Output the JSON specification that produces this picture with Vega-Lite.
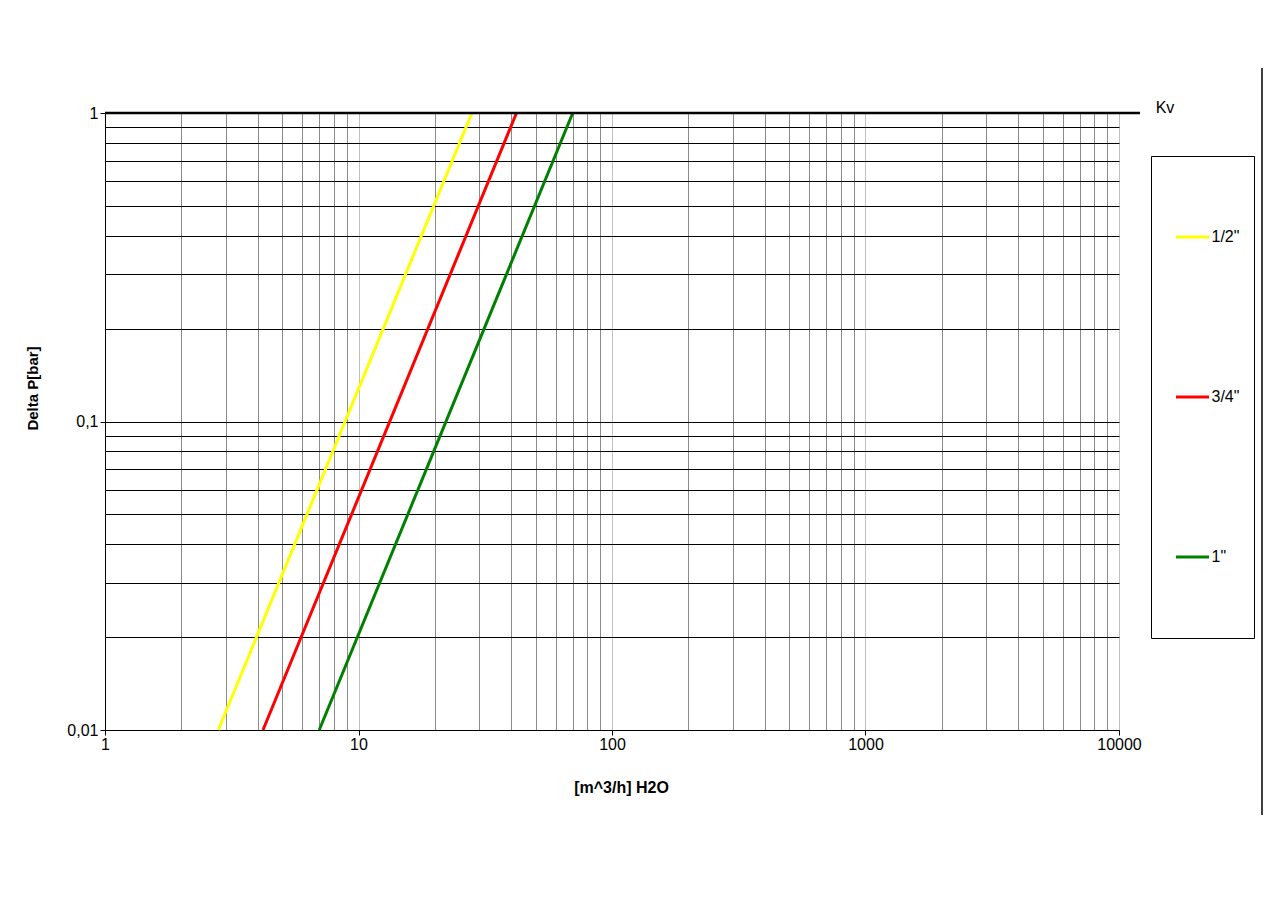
{
  "$schema": "https://vega.github.io/schema/vega-lite/v6.json",
  "width": 1014,
  "height": 617,
  "autosize": {"type": "none"},
  "padding": {"left": 105, "top": 113, "right": 168, "bottom": 174},
  "background": "white",
  "config": {"view": {"stroke": null}, "font": "Liberation Sans"},
  "datasets": {
    "curves": [
      {"size": "1/2\"", "q": 2.8, "dp": 0.01},
      {"size": "1/2\"", "q": 28, "dp": 1},
      {"size": "3/4\"", "q": 4.2, "dp": 0.01},
      {"size": "3/4\"", "q": 42, "dp": 1},
      {"size": "1\"", "q": 7.0, "dp": 0.01},
      {"size": "1\"", "q": 70, "dp": 1}
    ],
    "kv": [{"q": 1, "q2": 12100, "dp": 1, "tq": 15190, "label": "Kv"}],
    "border": [{"q": 36650, "dp": 1.4, "dp2": 0.0053}]
  },
  "layer": [
    {
      "data": {"name": "curves"},
      "mark": {"type": "line", "strokeWidth": 3, "clip": false},
      "encoding": {
        "x": {
          "field": "q", "type": "quantitative",
          "scale": {"type": "log", "domain": [1, 10000], "nice": false},
          "axis": {
            "title": "[m^3/h] H2O",
            "titleFont": "Liberation Sans", "titleFontSize": 16, "titleFontWeight": "bold", "titleColor": "black",
            "titleX": 516, "titleY": 57, "titleBaseline": "middle", "titleAnchor": "start", "titleAlign": "center",
            "values": [1,2,3,4,5,6,7,8,9,10,20,30,40,50,60,70,80,90,100,200,300,400,500,600,700,800,900,1000,2000,3000,4000,5000,6000,7000,8000,9000,10000],
            "labelExpr": "indexof([1,10,100,1000,10000], datum.value) >= 0 ? '' + datum.value : ''",
            "labelFont": "Liberation Sans", "labelFontSize": 16, "labelColor": "black", "labelPadding": 1,
            "labelOverlap": false, "labelFlush": false,
            "domainColor": "black", "domainWidth": 1,
            "tickColor": "black", "tickSize": 5, "tickWidth": 1,
            "tickOpacity": {"condition": {"test": "indexof([1,10,100,1000,10000], datum.value) >= 0", "value": 1}, "value": 0},
            "grid": true, "gridWidth": 1,
            "gridColor": {"condition": {"test": "indexof([1,10,100,1000,10000], datum.value) >= 0", "value": "#c0c0c0"}, "value": "#8c8c8c"}
          }
        },
        "y": {
          "field": "dp", "type": "quantitative",
          "scale": {"type": "log", "domain": [0.01, 1], "nice": false},
          "axis": {
            "title": "Delta P[bar]",
            "titleFont": "Liberation Sans", "titleFontSize": 15, "titleFontWeight": "bold", "titleColor": "black",
            "titleX": -73, "titleY": 275, "titleBaseline": "middle", "titleAlign": "center", "titleAngle": 270,
            "values": [0.01,0.02,0.03,0.04,0.05,0.06,0.07,0.08,0.09,0.1,0.2,0.3,0.4,0.5,0.6,0.7,0.8,0.9,1],
            "labelExpr": "datum.value == 1 ? '1' : datum.value == 0.1 ? '0,1' : datum.value == 0.01 ? '0,01' : ''",
            "labelFont": "Liberation Sans", "labelFontSize": 16, "labelColor": "black", "labelPadding": 2,
            "labelOverlap": false, "labelFlush": false,
            "domainColor": "black", "domainWidth": 1,
            "tickColor": "black", "tickSize": 5, "tickWidth": 1,
            "tickOpacity": {"condition": {"test": "datum.value == 1 || datum.value == 0.1 || datum.value == 0.01", "value": 1}, "value": 0},
            "grid": true, "gridColor": "black", "gridWidth": 1
          }
        },
        "color": {
          "field": "size", "type": "nominal",
          "scale": {"domain": ["1/2\"", "3/4\"", "1\""], "range": ["#ffff00", "#ff0000", "#008000"]},
          "legend": {
            "title": null,
            "orient": "none", "legendX": 1046, "legendY": 43,
            "padding": 14, "clipHeight": 134, "rowPadding": 26,
            "symbolType": "stroke", "symbolSize": 1089, "symbolStrokeWidth": 3,
            "symbolOffset": 9.5, "labelOffset": 1,
            "labelFont": "Liberation Sans", "labelFontSize": 16, "labelColor": "black",
            "strokeColor": "black", "fillColor": "white", "cornerRadius": 0
          }
        }
      }
    },
    {
      "data": {"name": "kv"},
      "mark": {"type": "rule", "color": "black", "strokeWidth": 2.5, "clip": false},
      "encoding": {
        "x": {"field": "q", "type": "quantitative", "scale": {"type": "log", "domain": [1, 10000], "nice": false}},
        "x2": {"field": "q2"},
        "y": {"field": "dp", "type": "quantitative", "scale": {"type": "log", "domain": [0.01, 1], "nice": false}}
      }
    },
    {
      "data": {"name": "kv"},
      "mark": {"type": "text", "color": "black", "font": "Liberation Sans", "fontSize": 16, "align": "center", "baseline": "middle", "dy": -5, "clip": false},
      "encoding": {
        "x": {"field": "tq", "type": "quantitative", "scale": {"type": "log", "domain": [1, 10000], "nice": false}},
        "y": {"field": "dp", "type": "quantitative", "scale": {"type": "log", "domain": [0.01, 1], "nice": false}},
        "text": {"field": "label"}
      }
    },
    {
      "data": {"name": "border"},
      "mark": {"type": "rule", "color": "black", "strokeWidth": 1.5, "clip": false},
      "encoding": {
        "x": {"field": "q", "type": "quantitative", "scale": {"type": "log", "domain": [1, 10000], "nice": false}},
        "y": {"field": "dp", "type": "quantitative", "scale": {"type": "log", "domain": [0.01, 1], "nice": false}},
        "y2": {"field": "dp2"}
      }
    }
  ]
}
